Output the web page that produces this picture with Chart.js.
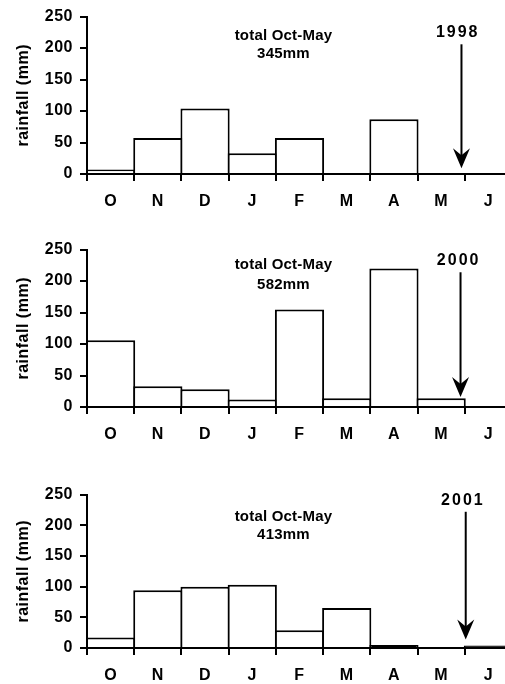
<!DOCTYPE html>
<html><head><meta charset="utf-8">
<script src="https://cdn.jsdelivr.net/npm/chart.js@4.4.1/dist/chart.umd.min.js"></script>
<style>
html,body{margin:0;padding:0;background:#fff;overflow:hidden;width:505px;height:684px;position:relative;}
.p{position:absolute;left:0;}
canvas{display:block;}
</style></head><body>
<div class="p" style="top:0px"><canvas id="c1" width="512" height="215"></canvas></div>
<div class="p" style="top:233px"><canvas id="c2" width="512" height="215"></canvas></div>
<div class="p" style="top:478px"><canvas id="c3" width="512" height="206"></canvas></div>
<script>
// ---- data ----
const months = ['O','N','D','J','F','M','A','M','J'];
const rain1998 = [7, 57, 104, 33, 57, 0, 87, 0, 0];
const rain2000 = [106, 33, 28, 12, 155, 14, 220, 14, 0];
const rain2001 = [17, 94, 100, 103, 29, 65, 5, 0, 4];
const yTicks = [0, 50, 100, 150, 200, 250];
const years = ['1998', '2000', '2001'];
const totals = ['345mm', '582mm', '413mm'];
const totalLabel = 'total Oct-May';
const yTitle = 'rainfall (mm)';
// annotation anchors in data space (category index, rainfall value)
const textX = [3.66, 3.66, 3.66];
const totalLabelY = [219, 226, 214];
const totalValueY = [191, 194, 184];
const yearX = [7.35, 7.37, 7.46];
const yearY = [224, 233, 241];
const arrowX = [7.43, 7.41, 7.52];
const arrowTop = [206, 214, 222];
const arrowTip = [9, 16, 14];

const FONT = "'Liberation Sans', Arial, sans-serif";
Chart.defaults.font.family = FONT;
Chart.defaults.color = '#000';

const annotPlugin = {
  id: 'annot',
  beforeDraw(chart) { chart.ctx.letterSpacing = '0.5px'; },
  afterDraw(chart) {
    const i = chart.options.plugins.annot.idx;
    const {ctx, scales: {x, y}} = chart;
    ctx.save();
    ctx.fillStyle = '#000';
    ctx.textAlign = 'center';
    ctx.textBaseline = 'middle';
    ctx.font = "bold 15px " + FONT;
    ctx.letterSpacing = '0.2px';
    const tx = x.getPixelForValue(textX[i]);
    ctx.fillText(totalLabel, tx, y.getPixelForValue(totalLabelY[i]));
    ctx.fillText(totals[i], tx, y.getPixelForValue(totalValueY[i]));
    ctx.font = "bold 16px " + FONT;
    ctx.letterSpacing = '2px';
    ctx.fillText(years[i], x.getPixelForValue(yearX[i]), y.getPixelForValue(yearY[i]));
    // arrow
    const ax = x.getPixelForValue(arrowX[i]);
    const at = y.getPixelForValue(arrowTop[i]);
    const ab = y.getPixelForValue(arrowTip[i]);
    ctx.strokeStyle = '#000';
    ctx.lineWidth = 2;
    ctx.beginPath();
    ctx.moveTo(ax, at);
    ctx.lineTo(ax, ab - 10);
    ctx.stroke();
    ctx.beginPath();
    ctx.moveTo(ax, ab);
    ctx.lineTo(ax - 8.5, ab - 20);
    ctx.lineTo(ax, ab - 13);
    ctx.lineTo(ax + 8.5, ab - 20);
    ctx.closePath();
    ctx.fill();
    ctx.restore();
  }
};

function makeChart(id, data, idx, xH) {
  return new Chart(document.getElementById(id), {
    type: 'bar',
    data: {
      labels: months,
      datasets: [{
        data: data,
        backgroundColor: c => (c.raw !== undefined && c.raw < 6 ? '#000' : '#fff'),
        borderColor: '#000',
        borderWidth: 2,
        barPercentage: 1.042,
        categoryPercentage: 1
      }]
    },
    options: {
      responsive: false,
      animation: false,
      events: [],
      layout: {padding: {top: 15, left: 10, right: 0, bottom: 0}},
      plugins: {legend: {display: false}, tooltip: {enabled: false}, annot: {idx: idx}},
      scales: {
        x: {
          type: 'category',
          offset: true,
          grid: {display: true, offset: true, drawOnChartArea: false, tickLength: 7, color: '#000', lineWidth: 2},
          border: {display: true, color: '#000', width: 2},
          ticks: {color: '#000', font: {size: 16, weight: 'bold'}, padding: 11, maxRotation: 0, autoSkip: false},
          afterFit(s) { s.height = xH; }
        },
        y: {
          min: 0, max: 250,
          afterBuildTicks(s) { s.ticks = yTicks.map(v => ({value: v})); },
          grid: {display: true, drawOnChartArea: false, tickLength: 7, color: '#000', lineWidth: 2},
          border: {display: true, color: '#000', width: 2},
          ticks: {color: '#000', font: {size: 16, weight: 'bold'}, padding: 7},
          title: {display: true, text: yTitle, color: '#000', font: {size: 16, weight: 'bold'}, padding: {top: 4, bottom: 0}},
          afterFit(s) { s.width = 77; }
        }
      }
    },
    plugins: [annotPlugin]
  });
}

makeChart('c1', rain1998, 0, 41);
makeChart('c2', rain2000, 1, 41);
makeChart('c3', rain2001, 2, 36);
</script>
</body></html>
